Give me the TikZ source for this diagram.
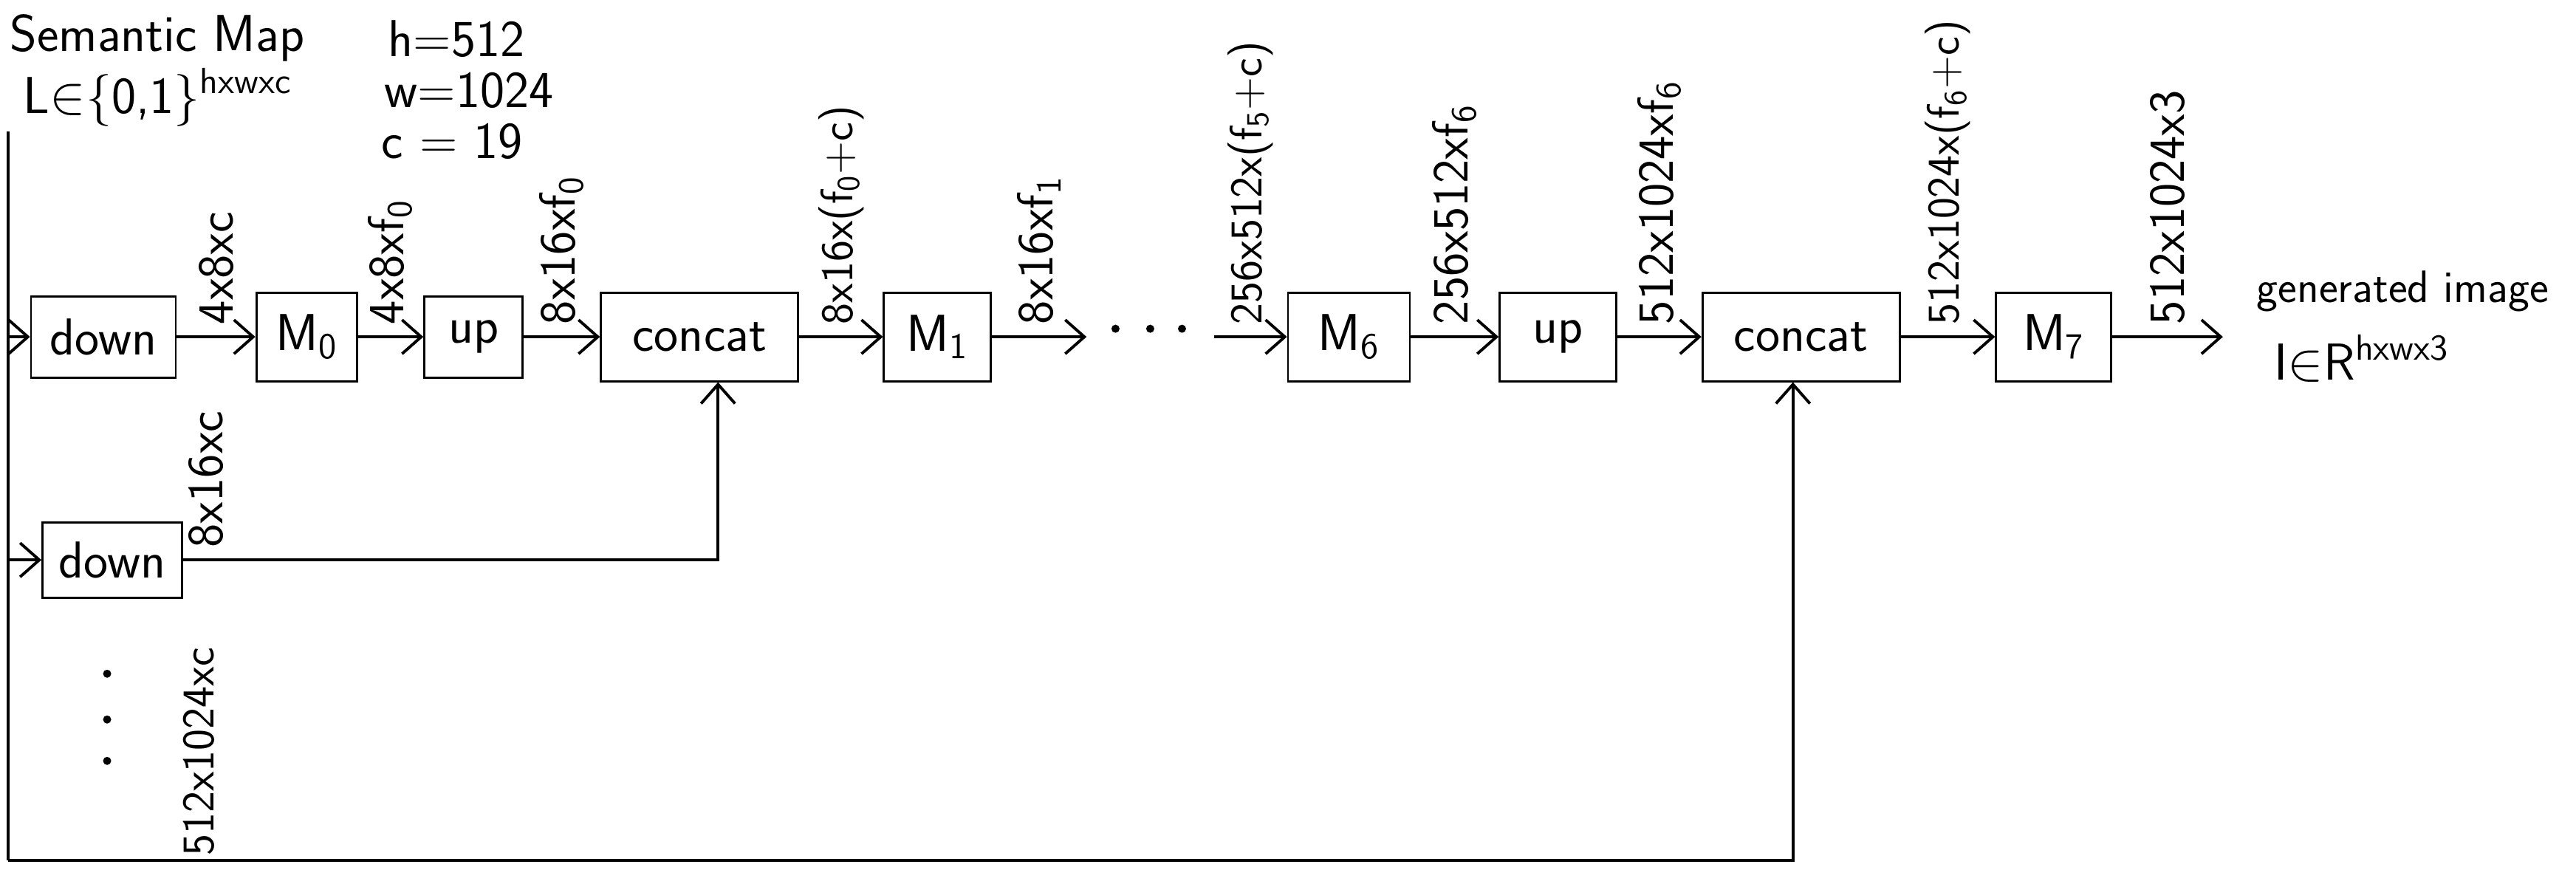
\documentclass[tikz,border=0pt]{standalone}
\usepackage{tikz}
\usetikzlibrary{arrows.meta,positioning,calc}
\newcommand{\boxfont}{\fontsize{20}{24}\selectfont\sffamily}
\newcommand{\dimfont}{\fontsize{19.5}{22}\selectfont\sffamily}
\newcommand{\dimsmall}{\fontsize{17.5}{20}\selectfont\sffamily}
\newcommand{\headfont}{\fontsize{20}{24}\selectfont\sffamily}
\tikzstyle{arrow} = [line width=1.1pt,-{Straight Barb[length=2.6mm,width=4.6mm]}]
\tikzstyle{wire} = [line width=1.1pt]
\tikzstyle{block} = [rectangle, draw, thick, minimum height=1.2cm, inner sep=0pt, font=\boxfont]
\tikzstyle{dimlabel} = [rotate=90, anchor=west, inner xsep=1.5mm, inner ysep=0pt, font=\dimfont]
\tikzstyle{head} = [anchor=base west, inner sep=0pt, font=\headfont]

\begin{document}
\begin{tikzpicture}
    \useasboundingbox (0,0) rectangle (34.87,-11.96);

    % Semantic map
    \node[head] (title) at (0.13,-0.69) {Semantic Map};
    \node[head] (domain) at (0.31,-1.53) {L$\in$\{0,1\}\textsuperscript{hxwxc}};
    \node[head] (hval) at (5.25,-0.76) {h=512};
    \node[head] (wval) at (5.20,-1.45) {w=1024};
    \node[head] (cval) at (5.16,-2.14) {c = 19};

    % Main row
    \node[block, minimum width=1.96cm, minimum height=1.1cm] (down1) at (1.40,-4.56) {down};
    \node[block, minimum width=1.36cm] (m0) at (4.15,-4.56) {M\textsubscript{0}};
    \node[block, minimum width=1.33cm, minimum height=1.1cm] (up1) at (6.41,-4.56) {up};
    \node[block, minimum width=2.67cm] (concat1) at (9.47,-4.56) {concat};
    \node[block, minimum width=1.45cm] (m1) at (12.69,-4.56) {M\textsubscript{1}};
    \node[minimum width=1.71cm, minimum height=0.3cm, inner sep=0pt] (gap) at (15.57,-4.56) {};
    \node[block, minimum width=1.65cm] (m6) at (18.26,-4.56) {M\textsubscript{6}};
    \node[block, minimum width=1.58cm] (up2) at (21.09,-4.56) {up};
    \node[block, minimum width=2.67cm] (concat2) at (24.38,-4.56) {concat};
    \node[block, minimum width=1.56cm] (m7) at (27.80,-4.56) {M\textsubscript{7}};
    \coordinate (out) at (30.09,-4.56);

    % Output
    \node[head, font=\dimsmall] (gen) at (30.54,-4.09) {generated image};
    \node[head] (img) at (30.78,-5.14) {I$\in$R\textsuperscript{hxwx3}};

    % Arrows along the row
    \draw[arrow] (down1) -- node[dimlabel, midway] {4x8xc} (m0);
    \draw[arrow] (m0) -- node[dimlabel, midway] {4x8xf\textsubscript{0}} (up1);
    \draw[arrow] (up1) -- node[dimlabel, midway] {8x16xf\textsubscript{0}} (concat1);
    \draw[arrow] (concat1) -- node[dimlabel, midway, font=\dimsmall] {8x16x(f\textsubscript{0}+c)} (m1);
    \draw[arrow] (m1) -- node[dimlabel, midway] {8x16xf\textsubscript{1}} (gap);
    \draw[arrow] (gap) -- node[dimlabel, midway, font=\dimsmall] {256x512x(f\textsubscript{5}+c)} (m6);
    \draw[arrow] (m6) -- node[dimlabel, midway] {256x512xf\textsubscript{6}} (up2);
    \draw[arrow] (up2) -- node[dimlabel, midway] {512x1024xf\textsubscript{6}} (concat2);
    \draw[arrow] (concat2) -- node[dimlabel, midway, font=\dimsmall] {512x1024x(f\textsubscript{6}+c)} (m7);
    \draw[arrow] (m7) -- node[dimlabel, midway] {512x1024x3} (out);

    % Dots
    \foreach \dx in {-0.47,0,0.43}
        \fill ($(gap)+(\dx,0.11)$) circle (0.055);

    % Semantic map feed
    \coordinate (maptop) at (0.11,-1.78);
    \coordinate (mapbot) at (0.11,-11.65);
    \coordinate (fb1) at (9.72,-7.58);
    \coordinate (fb2) at (24.27,-11.65);
    \node[block, minimum width=1.89cm, minimum height=1.02cm] (down2) at (1.52,-7.58) {down};

    \draw[wire] (maptop) -- (mapbot);
    \draw[arrow] (maptop |- down1) -- (down1);
    \draw[arrow] (maptop |- down2) -- (down2);
    \draw[arrow] (down2) -- node[dimlabel, pos=0.043] {8x16xc} (fb1) -- (fb1 |- concat1.south);
    \draw[arrow] (mapbot) -- node[dimlabel, pos=0.107, inner xsep=0.5mm, font=\dimsmall] {512x1024xc} (fb2) -- (fb2 |- concat2.south);

    \foreach \dy in {-9.12,-9.74,-10.30}
        \fill (1.45,\dy) circle (0.055);
\end{tikzpicture}
\end{document}
